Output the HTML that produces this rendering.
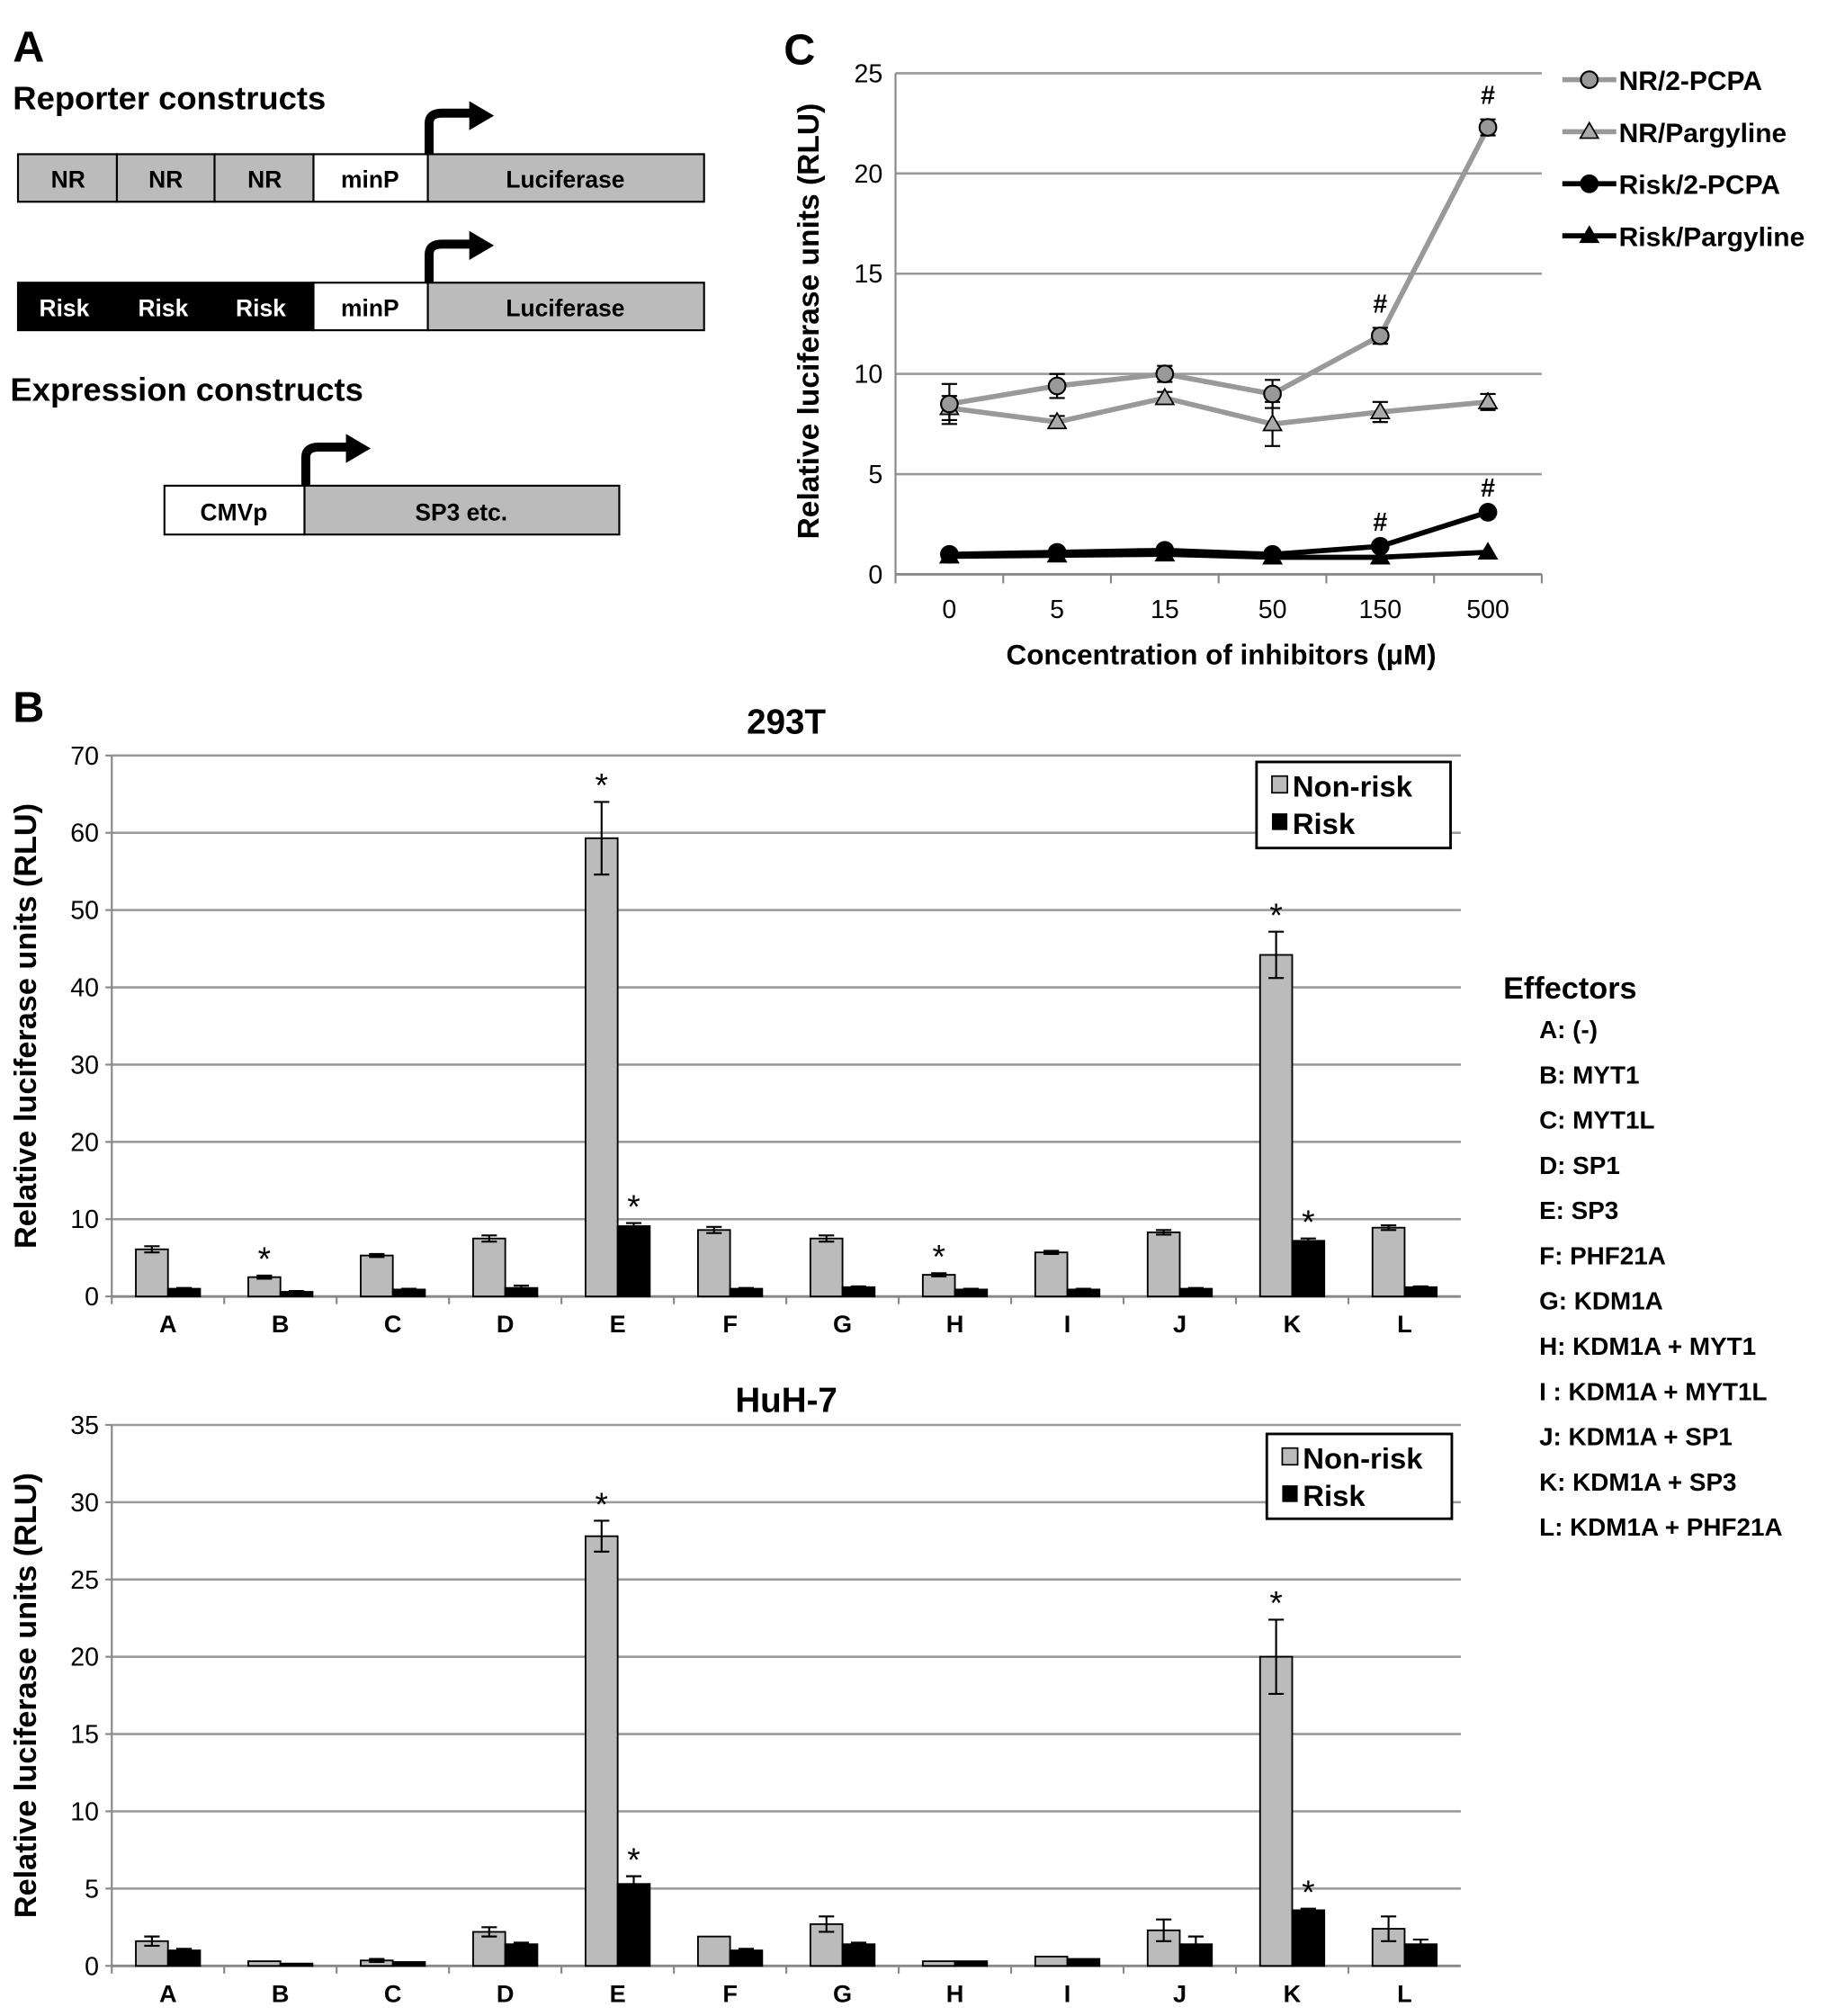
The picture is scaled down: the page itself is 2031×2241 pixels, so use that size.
<!DOCTYPE html>
<html><head><meta charset="utf-8"><style>
html,body{margin:0;padding:0;background:#fff}
svg{display:block;font-family:"Liberation Sans",Arial,sans-serif}
</style></head><body>
<svg id="fig" xmlns="http://www.w3.org/2000/svg" width="2031" height="2241" viewBox="0 0 1422 1569">
<rect width="1422" height="1569" fill="#fff"/>
<!-- Panel A -->
<g font-weight="bold">
<text x="10" y="48" font-size="34">A</text>
<text x="10" y="85" font-size="25.5">Reporter constructs</text>
<g stroke="#000" stroke-width="1.5" font-size="18.5" text-anchor="middle">
<rect x="14" y="120" width="77" height="37" fill="#bbb"/><rect x="91" y="120" width="76" height="37" fill="#bbb"/><rect x="167" y="120" width="77" height="37" fill="#bbb"/>
<rect x="244" y="120" width="89" height="37" fill="#fff"/><rect x="333" y="120" width="215" height="37" fill="#bbb"/>
<g stroke="none"><text x="53" y="146">NR</text><text x="129" y="146">NR</text><text x="206" y="146">NR</text><text x="288" y="146">minP</text><text x="440" y="146">Luciferase</text></g>
<path d="M334 120 V96 Q334 88 344 88 H368" fill="none" stroke-width="7"/><polygon points="366,80 383,90 366,100" fill="#000"/>
</g>
<g stroke="#000" stroke-width="1.5" font-size="18.5" text-anchor="middle">
<rect x="14" y="220" width="230" height="37" fill="#000"/>
<rect x="244" y="220" width="89" height="37" fill="#fff"/><rect x="333" y="220" width="215" height="37" fill="#bbb"/>
<g stroke="none"><text x="50" y="246" fill="#fff">Risk</text><text x="127" y="246" fill="#fff">Risk</text><text x="203" y="246" fill="#fff">Risk</text><text x="288" y="246">minP</text><text x="440" y="246">Luciferase</text></g>
<path d="M334 220 V198 Q334 190 344 190 H368" fill="none" stroke-width="7"/><polygon points="366,181 383,191 366,201" fill="#000"/>
</g>
<text x="8" y="312" font-size="25.5">Expression constructs</text>
<g stroke="#000" stroke-width="1.5" font-size="18.5" text-anchor="middle">
<rect x="128" y="378" width="109" height="38" fill="#fff"/><rect x="237" y="378" width="245" height="38" fill="#bbb"/>
<g stroke="none"><text x="182" y="405">CMVp</text><text x="359" y="405">SP3 etc.</text></g>
<path d="M238 378 V356 Q238 348 248 348 H272" fill="none" stroke-width="7"/><polygon points="270,339 287,349 270,359" fill="#000"/>
</g>
</g>
<g id="charts"></g>
</svg>
<script>
const NS="http://www.w3.org/2000/svg";
const root=document.getElementById('charts');
function mk(tag,attrs,parent,txt){const e=document.createElementNS(NS,tag);for(const k in attrs)e.setAttribute(k,attrs[k]);if(txt!==undefined)e.textContent=txt;(parent||root).appendChild(e);return e;}

// ---------- Panel B data ----------
const effectors=["A","B","C","D","E","F","G","H","I","J","K","L"];
const t293NonRisk=[6.1,2.5,5.3,7.5,59.3,8.6,7.5,2.8,5.7,8.3,44.2,8.9];
const t293NonRiskErr=[0.4,0.2,0.2,0.4,4.7,0.4,0.4,0.2,0.2,0.3,3.0,0.3];
const t293Risk=[1.0,0.6,0.9,1.1,9.1,1.0,1.2,0.9,0.9,1.0,7.2,1.2];
const t293RiskErr=[0.1,0.1,0.1,0.3,0.4,0.1,0.1,0.1,0.1,0.1,0.3,0.1];
const t293StarNR=[0,1,0,0,1,0,0,1,0,0,1,0];
const t293StarR=[0,0,0,0,1,0,0,0,0,0,1,0];
const t293Ticks=[0,10,20,30,40,50,60,70];
const huhNonRisk=[1.6,0.3,0.35,2.2,27.8,1.9,2.7,0.3,0.6,2.3,20.0,2.4];
const huhNonRiskErr=[0.3,0,0.1,0.3,1.0,0,0.5,0,0,0.7,2.4,0.8];
const huhRisk=[1.0,0.15,0.25,1.4,5.3,1.0,1.4,0.3,0.45,1.4,3.6,1.4];
const huhRiskErr=[0.1,0,0,0.1,0.5,0.1,0.1,0,0,0.5,0.1,0.3];
const huhStarNR=[0,0,0,0,1,0,0,0,0,0,1,0];
const huhStarR=[0,0,0,0,1,0,0,0,0,0,1,0];
const huhTicks=[0,5,10,15,20,25,30,35];
const effectorNames=["A: (-)","B: MYT1","C: MYT1L","D: SP1","E: SP3","F: PHF21A","G: KDM1A","H: KDM1A + MYT1","I : KDM1A + MYT1L","J: KDM1A + SP1","K: KDM1A + SP3","L: KDM1A + PHF21A"];

// ---------- Panel C data ----------
const concLabels=["0","5","15","50","150","500"];
const nrPcpa=[8.5,9.4,10.0,9.0,11.9,22.3];
const nrPcpaErr=[1.0,0.6,0.4,0.7,0.4,0.4];
const nrParg=[8.3,7.6,8.8,7.5,8.1,8.6];
const nrPargErr=[0.6,0.3,0.3,1.1,0.5,0.4];
const riskPcpa=[1.0,1.1,1.2,1.0,1.4,3.1];
const riskParg=[0.9,0.95,1.0,0.85,0.85,1.1];
const cTicks=[0,5,10,15,20,25];
const hashNR=[0,0,0,0,1,1];
const hashRisk=[0,0,0,0,1,1];

function barChart(o){
  const g=mk('g',{});
  
  
  const x0=87,x1=1137,n=effectors.length,step=(x1-x0)/n;
  const y=v=>o.yBase-(v/o.max)*(o.yBase-o.yTop);
  const cx=i=>x0+step*(i+0.5);
  o.ticks.forEach(t=>{
    if(t>0){const l=mk('line',{x1:x0,x2:x1,y1:y(t),y2:y(t),stroke:'#999','stroke-width':1.8},g);}
    const tx=mk('text',{x:x0-10,y:y(t)+7,'font-size':20,'text-anchor':'end'},g,String(t));
    
    mk('line',{x1:x0-5,x2:x0,y1:y(t),y2:y(t),stroke:'#888','stroke-width':1.5},g);
  });
  mk('line',{x1:x0,x2:x0,y1:o.yTop,y2:o.yBase,stroke:'#888','stroke-width':1.5},g);
  const ax=mk('line',{x1:x0,x2:x1,y1:o.yBase,y2:o.yBase,stroke:'#888','stroke-width':2},g);
  
  const bw=25;
  effectors.forEach((c,i)=>{
    mk('line',{x1:x0+step*i,x2:x0+step*i,y1:o.yBase,y2:o.yBase+6,stroke:'#888','stroke-width':1.5},g);
    const lb=mk('text',{x:cx(i),y:o.yBase+28,'font-size':19,'font-weight':'bold','text-anchor':'middle'},g,c);
    
    [[o.nr,o.nrErr,'#bbb',-25,o.starNR,'non-risk'],[o.r,o.rErr,'#000',0,o.starR,'risk']].forEach(s=>{
      const v=s[0][i],bx=cx(i)+s[3];
      const b=mk('rect',{x:bx,y:y(v),width:bw,height:o.yBase-y(v),fill:s[2],stroke:'#000','stroke-width':1.3},g);
      
      const e=s[1][i];
      if(e>0){const mx=bx+bw/2;
        mk('path',{d:`M${mx} ${y(v+e)}V${y(v-e)}M${mx-6} ${y(v+e)}H${mx+6}M${mx-6} ${y(v-e)}H${mx+6}`,stroke:'#000','stroke-width':1.5,fill:'none'},g);}
      if(s[4][i]){const st=mk('text',{x:bx+bw/2,y:y(v+e)-4,'font-size':26,'text-anchor':'middle'},g,'*');
        }
    });
  });
  const t=mk('text',{x:(x0+x1)/2,y:o.titleY,'font-size':27,'font-weight':'bold','text-anchor':'middle'},g,o.title);
  
  const yt=mk('text',{transform:`translate(28 ${(o.yTop+o.yBase)/2}) rotate(-90)`,'font-size':24,'font-weight':'bold','text-anchor':'middle'},g,'Relative luciferase units (RLU)');
  
  const lg=mk('g',{'font-weight':'bold'},g);
  const L=o.leg;
  mk('rect',{x:L[0],y:L[1],width:L[2],height:L[3],fill:'#fff',stroke:'#000','stroke-width':2},lg);
  mk('rect',{x:L[0]+12,y:L[1]+11,width:12,height:13,fill:'#bbb',stroke:'#000','stroke-width':1.2},lg);
  mk('rect',{x:L[0]+12,y:L[1]+40,width:12,height:13,fill:'#000'},lg);
  mk('text',{x:L[0]+28,y:L[1]+27,'font-size':23},lg,'Non-risk');
  mk('text',{x:L[0]+28,y:L[1]+56,'font-size':23},lg,'Risk');
}
barChart({name:'chart-293t',title:'293T',titleY:571,yTop:588,yBase:1009,max:70,ticks:t293Ticks,nr:t293NonRisk,nrErr:t293NonRiskErr,r:t293Risk,rErr:t293RiskErr,starNR:t293StarNR,starR:t293StarR,leg:[978,593,151,67]});
barChart({name:'chart-huh7',title:'HuH-7',titleY:1099,yTop:1109,yBase:1530,max:35,ticks:huhTicks,nr:huhNonRisk,nrErr:huhNonRiskErr,r:huhRisk,rErr:huhRiskErr,starNR:huhStarNR,starR:huhStarR,leg:[986,1116,144,66]});

const bl=mk('text',{x:10,y:562,'font-size':34,'font-weight':'bold'},root,'B');

const ef=mk('g',{'font-weight':'bold'});
mk('text',{x:1170,y:777,'font-size':24},ef,'Effectors');
effectorNames.forEach((s,i)=>{const t=mk('text',{x:1198,y:808+i*35.2,'font-size':19.5},ef,s);
  });

// ---------- Panel C ----------
(function(){
  const g=mk('g',{});
  const x0=697,x1=1200,yTop=57,yBase=447,max=25,n=concLabels.length,step=(x1-x0)/n;
  const y=v=>yBase-(v/max)*(yBase-yTop);const cx=i=>x0+step*(i+0.5);
  const lbl=mk('text',{x:610,y:50,'font-size':34,'font-weight':'bold'},g,'C');
  
  cTicks.forEach(t=>{
    if(t>0){const l=mk('line',{x1:x0,x2:x1,y1:y(t),y2:y(t),stroke:'#999','stroke-width':1.8},g);}
    const tx=mk('text',{x:x0-10,y:y(t)+7,'font-size':20,'text-anchor':'end'},g,String(t));
    
  });
  mk('line',{x1:x0,x2:x0,y1:yTop,y2:yBase,stroke:'#888','stroke-width':1.5},g);
  mk('line',{x1:x0,x2:x1,y1:yBase,y2:yBase,stroke:'#888','stroke-width':2},g);
  concLabels.forEach((c,i)=>{
    mk('line',{x1:x0+step*i,x2:x0+step*i,y1:yBase,y2:yBase+7,stroke:'#888','stroke-width':1.5},g);
    const t=mk('text',{x:cx(i),y:yBase+34,'font-size':20,'text-anchor':'middle'},g,c);
    
  });
  mk('line',{x1:x1,x2:x1,y1:yBase,y2:yBase+7,stroke:'#888','stroke-width':1.5},g);
  const xt=mk('text',{x:(x0+x1)/2+2,y:517,'font-size':22,'font-weight':'bold','text-anchor':'middle'},g,'Concentration of inhibitors (\u03bcM)');
  
  const yt=mk('text',{transform:`translate(637 ${(yTop+yBase)/2-2}) rotate(-90)`,'font-size':23.5,'font-weight':'bold','text-anchor':'middle'},g,'Relative luciferase units (RLU)');
  
  const series=[[nrParg,nrPargErr,'#999','tri','nr-pargyline'],[nrPcpa,nrPcpaErr,'#999','circ','nr-2pcpa'],[riskParg,null,'#000','tri','risk-pargyline'],[riskPcpa,null,'#000','circ','risk-2pcpa']];
  function marker(px,py,shape,col,fill,parent){
    if(shape==='circ')return mk('circle',{cx:px,cy:py,r:6.5,fill:fill,stroke:'#000','stroke-width':1.5},parent);
    return mk('polygon',{points:`${px},${py-7} ${px+7},${py+5} ${px-7},${py+5}`,fill:fill,stroke:'#000','stroke-width':1.2},parent);
  }
  series.forEach(s=>{
    const sg=mk('g',{},g);
    mk('polyline',{points:s[0].map((v,i)=>`${cx(i)},${y(v)}`).join(' '),fill:'none',stroke:s[2],'stroke-width':4},sg);
    s[0].forEach((v,i)=>{
      if(s[1]){const e=s[1][i],px=cx(i);mk('path',{d:`M${px} ${y(v+e)}V${y(v-e)}M${px-6} ${y(v+e)}H${px+6}M${px-6} ${y(v-e)}H${px+6}`,stroke:'#000','stroke-width':1.5,fill:'none'},sg);}
      const m=marker(cx(i),y(v),s[3],s[2],s[2]==='#999'?(s[3]==='tri'?'#aaa':'#999'):'#000',sg);
      
    });
  });
  concLabels.forEach((c,i)=>{
    if(hashNR[i]){const t=mk('text',{x:cx(i),y:y(nrPcpa[i]+nrPcpaErr[i])-12,'font-size':20,'font-weight':'bold','text-anchor':'middle'},g,'#');}
    if(hashRisk[i]){const t=mk('text',{x:cx(i),y:y(riskPcpa[i])-12,'font-size':20,'font-weight':'bold','text-anchor':'middle'},g,'#');}
  });
  const lg=mk('g',{'font-weight':'bold','font-size':21},g);
  [['NR/2-PCPA','#999','circ','#999'],['NR/Pargyline','#999','tri','#aaa'],['Risk/2-PCPA','#000','circ','#000'],['Risk/Pargyline','#000','tri','#000']].forEach((e,i)=>{
    const ly=62+i*40.5;
    mk('line',{x1:1216,x2:1258,y1:ly,y2:ly,stroke:e[1],'stroke-width':4},lg);
    marker(1237,ly,e[2],e[1],e[3],lg);
    mk('text',{x:1260,y:ly+8},lg,e[0]);
  });
})();
</script>
</body></html>
